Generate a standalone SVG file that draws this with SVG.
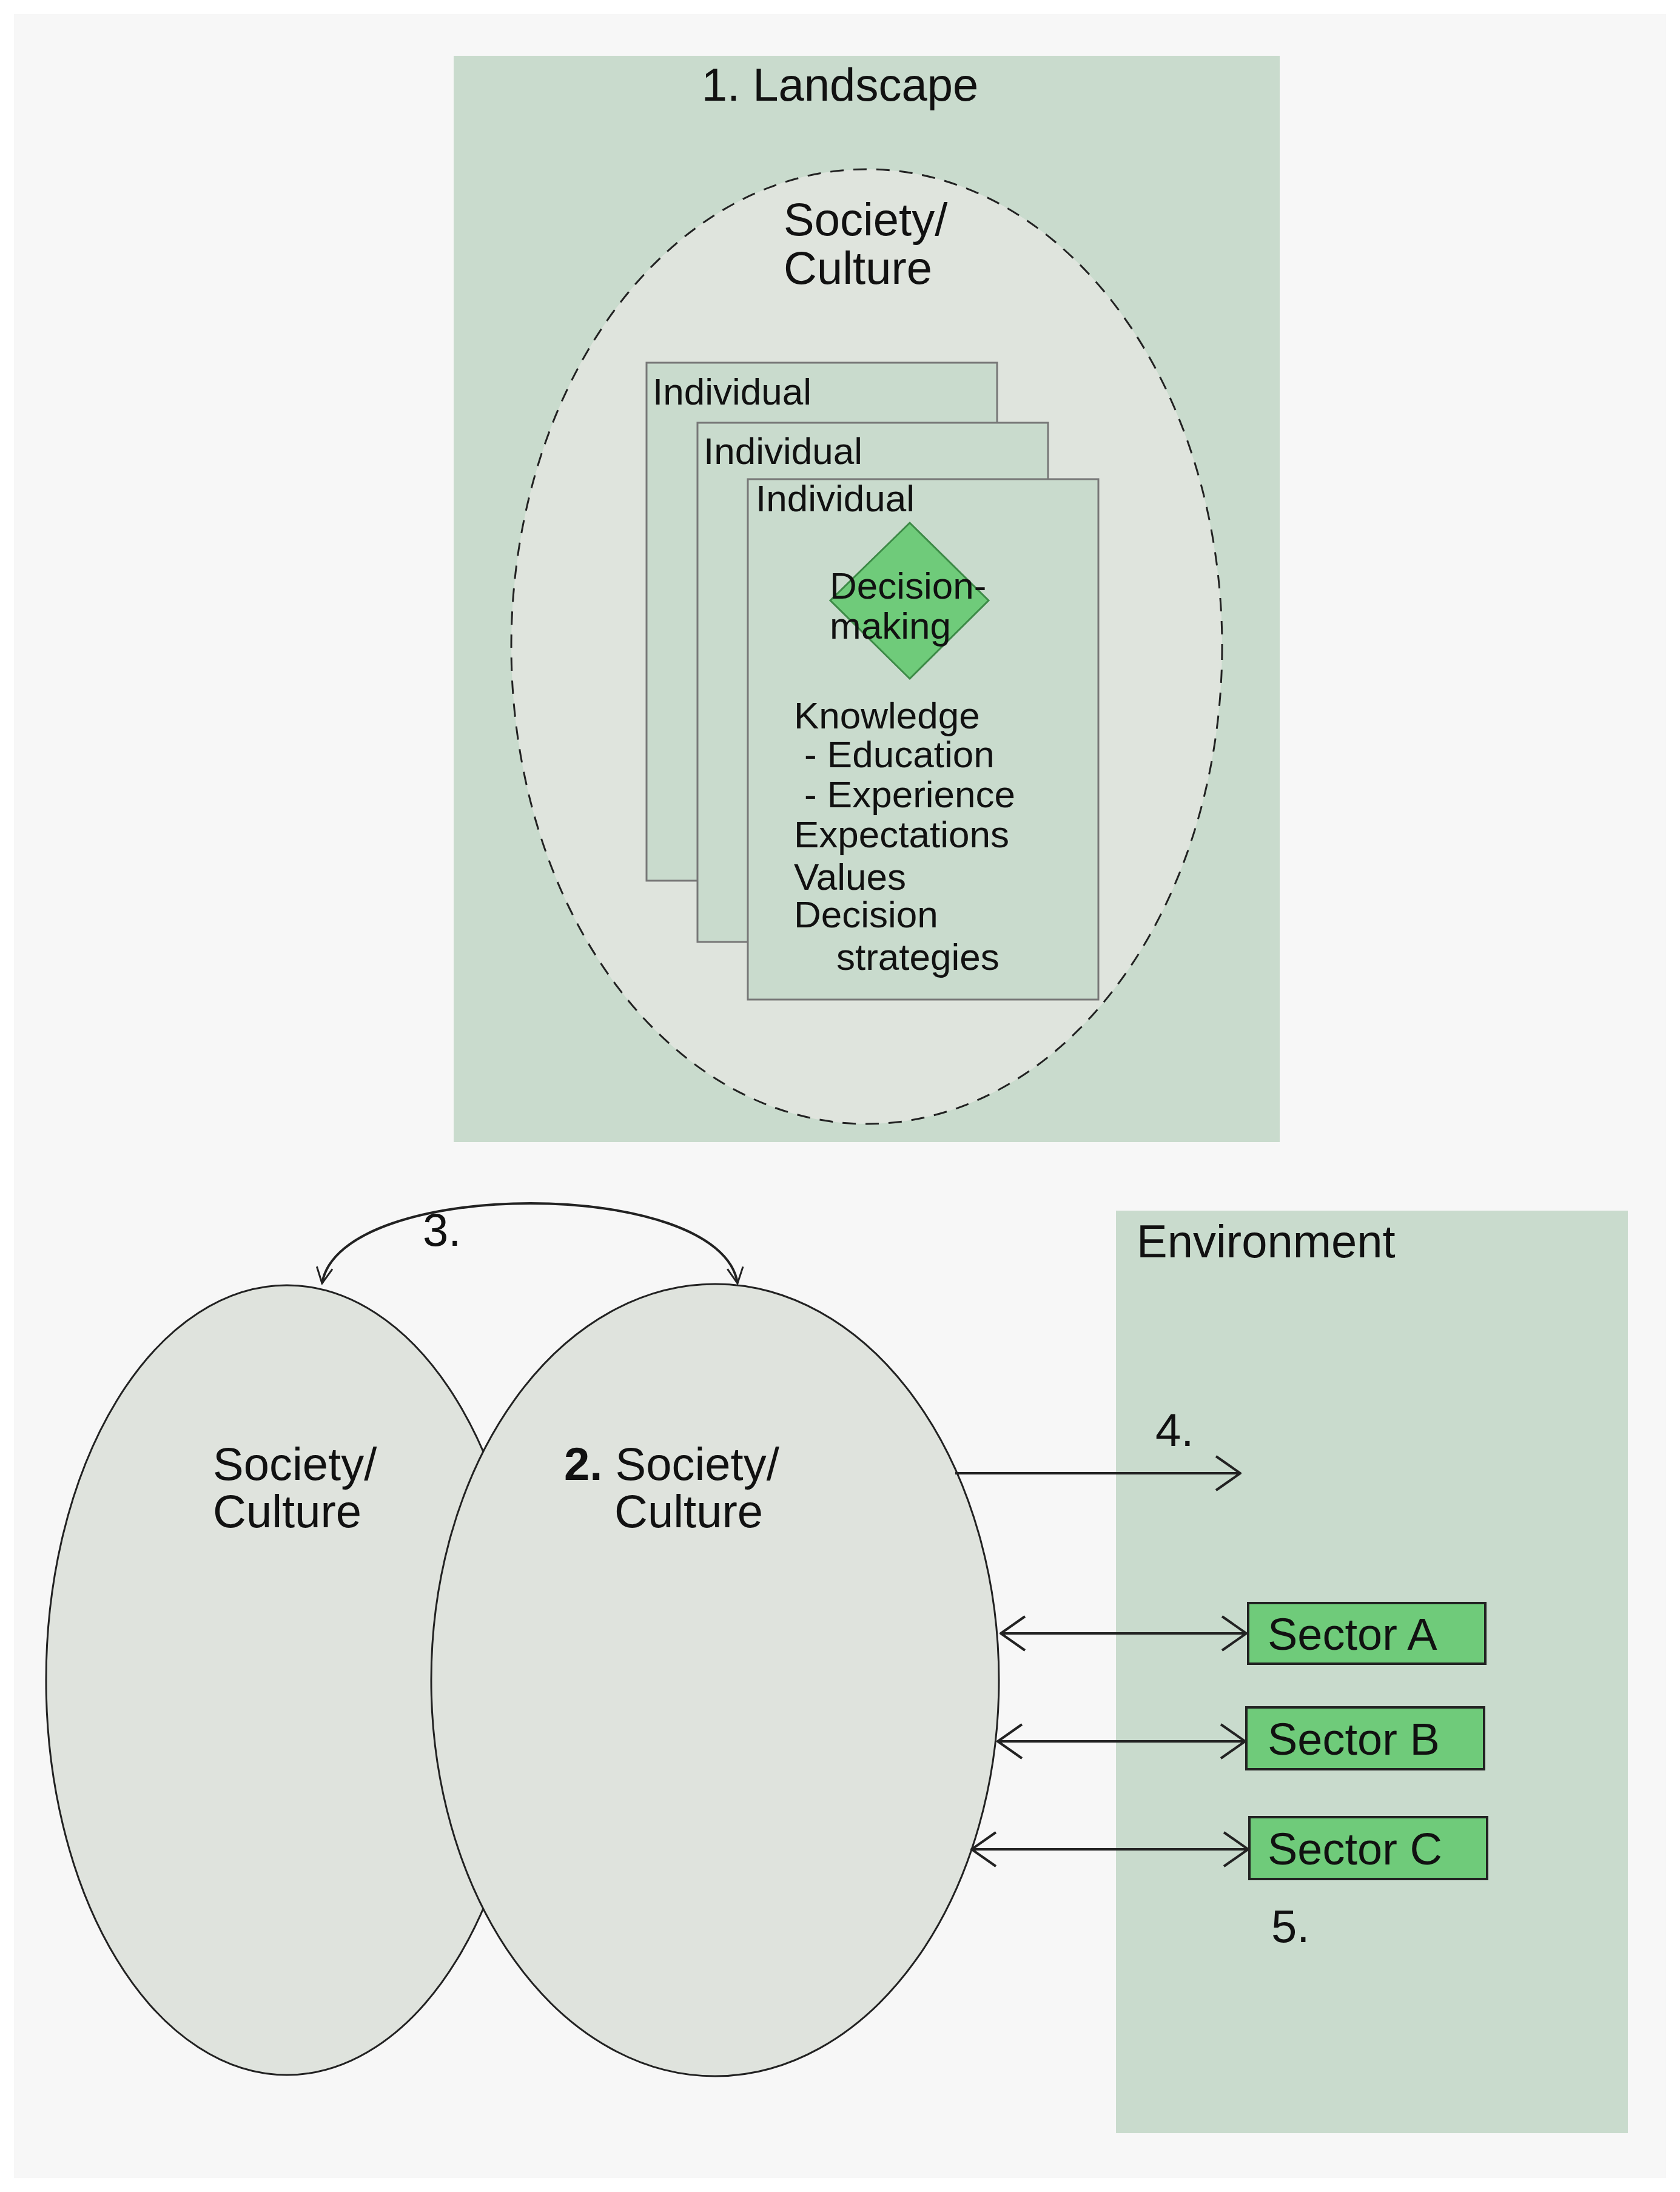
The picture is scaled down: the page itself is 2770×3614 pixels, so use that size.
<svg xmlns="http://www.w3.org/2000/svg" width="2770" height="3614" viewBox="0 0 2770 3614">
<style>
text{font-family:"Liberation Sans",Arial,sans-serif;fill:#111}
.big{font-size:76px}
.sec{font-size:74px}
.mid{font-size:62px}
.ln{stroke:#222;stroke-width:4;fill:none}
.ind{fill:#c9dbcd;stroke:#777;stroke-width:3}
</style>
<defs>
<marker id="a" viewBox="0 0 30 30" refX="28" refY="15" markerWidth="30" markerHeight="30" markerUnits="userSpaceOnUse" orient="auto-start-reverse">
<path d="M2,2 L28,15 L2,28" fill="none" stroke="#222" stroke-width="3"/>
</marker>
<marker id="b" viewBox="0 0 44 60" refX="42" refY="30" markerWidth="44" markerHeight="60" markerUnits="userSpaceOnUse" orient="auto-start-reverse">
<path d="M2,2 L42,30 L2,58" fill="none" stroke="#222" stroke-width="4"/>
</marker>
</defs>
<rect width="2770" height="3614" fill="#fff"/>
<rect x="23" y="23" width="2724" height="3568" fill="#f7f7f7"/>
<g id="landscape">
<rect x="748" y="92" width="1362" height="1791" fill="#c9dbcd"/>
<text class="big" x="1385" y="166" text-anchor="middle">1. Landscape</text>
</g>
<g id="society-top">
<ellipse cx="1429" cy="1066" rx="586" ry="787" fill="#dfe4dd" stroke="#222" stroke-width="3" stroke-dasharray="22,16"/>
<text class="big" x="1292" y="388">Society/</text>
<text class="big" x="1292" y="468">Culture</text>
</g>
<g id="individual1">
<rect class="ind" x="1066" y="598" width="578" height="854"/>
<text class="mid" x="1076" y="667">Individual</text>
</g>
<g id="individual2">
<rect class="ind" x="1150" y="697" width="578" height="856"/>
<text class="mid" x="1160" y="765">Individual</text>
</g>
<g id="individual3">
<rect class="ind" x="1233" y="790" width="578" height="858"/>
<text class="mid" x="1246" y="843">Individual</text>
<text class="mid" x="1309" y="1201">Knowledge</text>
<text class="mid" x="1326" y="1265">- Education</text>
<text class="mid" x="1326" y="1331">- Experience</text>
<text class="mid" x="1309" y="1397">Expectations</text>
<text class="mid" x="1309" y="1467">Values</text>
<text class="mid" x="1309" y="1529">Decision</text>
<text class="mid" x="1379" y="1599">strategies</text>
</g>
<g id="decision">
<polygon points="1500,862 1630,990 1500,1119 1369,990" fill="#6fcb7a" stroke="#3d8a47" stroke-width="3"/>
<text class="mid" x="1368" y="987">Decision-</text>
<text class="mid" x="1368" y="1053">making</text>
</g>
<g id="environment">
<rect x="1840" y="1996" width="844" height="1521" fill="#c9dbcd"/>
<text class="big" x="1874" y="2073">Environment</text>
</g>
<g id="society-left">
<ellipse cx="473" cy="2770" rx="397" ry="651" fill="#dfe3dd" stroke="#222" stroke-width="3"/>
<text class="big" x="351" y="2440">Society/</text>
<text class="big" x="351" y="2518">Culture</text>
</g>
<g id="society-right">
<ellipse cx="1179" cy="2770" rx="468" ry="653" fill="#dfe3dd" stroke="#222" stroke-width="3"/>
<text class="big" x="930" y="2440"><tspan font-weight="bold">2.</tspan> Society/</text>
<text class="big" x="1013" y="2518">Culture</text>
</g>
<g id="sectorA">
<rect x="2058" y="2643" width="391" height="100" fill="#6fcb7a" stroke="#222" stroke-width="4"/>
<text class="sec" x="2090" y="2720">Sector A</text>
</g>
<g id="sectorB">
<rect x="2055" y="2815" width="392" height="102" fill="#6fcb7a" stroke="#222" stroke-width="4"/>
<text class="sec" x="2090" y="2893">Sector B</text>
</g>
<g id="sectorC">
<rect x="2060" y="2996" width="392" height="102" fill="#6fcb7a" stroke="#222" stroke-width="4"/>
<text class="sec" x="2090" y="3074">Sector C</text>
</g>
<g id="connectors">
<path class="ln" d="M531,2116 C560,1940 1190,1940 1216,2116" marker-start="url(#a)" marker-end="url(#a)"/>
<text class="big" x="697" y="2054">3.</text>
<line class="ln" x1="1575" y1="2429" x2="2045" y2="2429" marker-end="url(#b)"/>
<text class="big" x="1905" y="2384">4.</text>
<line class="ln" x1="1650" y1="2693" x2="2055" y2="2693" marker-start="url(#b)" marker-end="url(#b)"/>
<line class="ln" x1="1645" y1="2871" x2="2053" y2="2871" marker-start="url(#b)" marker-end="url(#b)"/>
<line class="ln" x1="1602" y1="3049" x2="2058" y2="3049" marker-start="url(#b)" marker-end="url(#b)"/>
<text class="big" x="2096" y="3202">5.</text>
</g>
</svg>
